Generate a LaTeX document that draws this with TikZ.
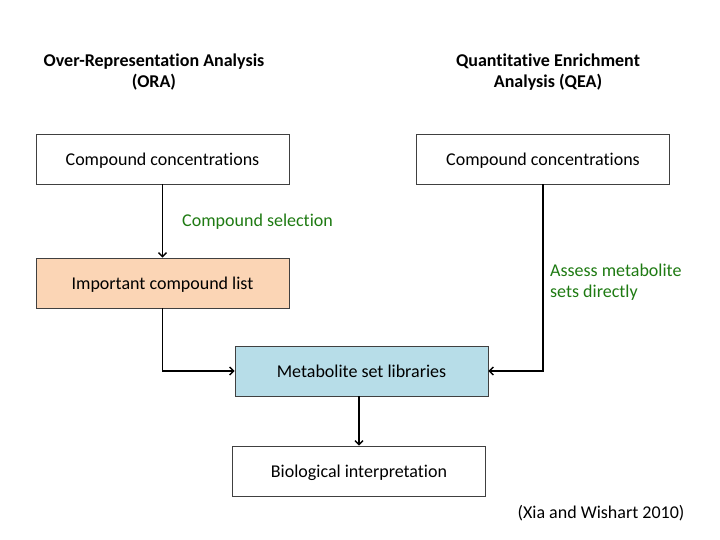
\documentclass[tikz,border=0pt]{standalone}
\usepackage{fontspec}
\setmainfont[Ligatures={NoCommon}]{Carlito}
\usetikzlibrary{arrows.meta}
\definecolor{orfill}{HTML}{FBD5B5}
\definecolor{blfill}{HTML}{B7DDE8}
\definecolor{grtxt}{HTML}{1E7A12}
\definecolor{bordc}{HTML}{404040}
\tikzset{
  box/.style={draw=bordc, line width=0.9pt, minimum width=253pt, minimum height=50pt, inner sep=0pt, text height=13pt, text depth=0pt, font=\fontsize{18}{21}\selectfont},
  conn/.style={line width=1.8pt, -{Straight Barb[length=4pt,width=8pt,line width=1.4pt]}},
  title/.style={font=\fontsize{18}{21}\selectfont\bfseries, align=center},
  note/.style={text=grtxt, font=\fontsize{18}{20.5}\selectfont, align=left, anchor=west, inner sep=0pt},
}
\begin{document}
\begin{tikzpicture}[x=1pt,y=-1pt]
\useasboundingbox (0,0) rectangle (720,540);
\node[title] (t1) at (154,72.5) {Over-Representation Analysis\\(ORA)};
\node[title] (t2) at (548,72.5) {Quantitative Enrichment\\Analysis (QEA)};
\node[box] (c1) at (162.5,159) {Compound concentrations};
\node[box] (c2) at (543,159) {Compound concentrations};
\node[box, fill=orfill] (icl) at (162.5,283) {Important compound list};
\node[box, fill=blfill] (msl) at (361.5,371) {Metabolite set libraries};
\node[box] (bio) at (359,471) {Biological interpretation};
\node[note] (sel) at (182,222) {Compound selection};
\node[note] (ass) at (550,282) {Assess metabolite\\sets directly};
\node[inner sep=0pt, font=\fontsize{18}{21}\selectfont] (ref) at (601,513) {(Xia and Wishart 2010)};
\draw[conn] (c1.south -| icl.north) -- (icl.north);
\draw[conn] (icl.south) |- (msl.west);
\draw[conn] (c2.south) |- (msl.east);
\draw[conn] (msl.south -| bio.north) -- (bio.north);
\end{tikzpicture}
\end{document}
